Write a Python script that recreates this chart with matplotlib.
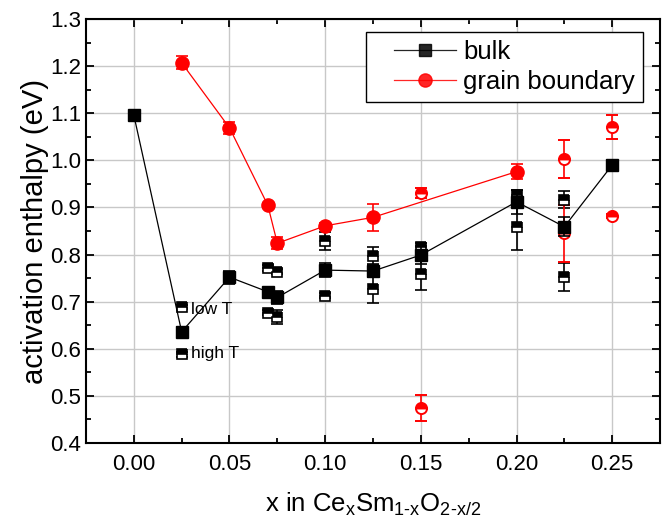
import numpy as np
import matplotlib
matplotlib.use('Agg')
import matplotlib.pyplot as plt
from matplotlib.lines import Line2D
from matplotlib.legend_handler import HandlerLine2D
from matplotlib.ticker import MultipleLocator

plt.rcParams['font.family'] = ['Liberation Sans', 'DejaVu Sans']
plt.rcParams['mathtext.fontset'] = 'custom'
plt.rcParams['mathtext.rm'] = 'Liberation Sans'
plt.rcParams['mathtext.it'] = 'Liberation Sans'

# bulk (filled squares, connected)
bulk_x = [0.0, 0.025, 0.05, 0.07, 0.075, 0.10, 0.125, 0.15, 0.20, 0.225, 0.25]
bulk_y = [1.096, 0.636, 0.752, 0.721, 0.709, 0.767, 0.765, 0.799, 0.912, 0.859, 0.990]
bulk_err = [0.008, 0.010, 0.014, 0.008, 0.014, 0.015, 0.012, 0.020, 0.025, 0.020, 0.010]

# bulk, low T / high T fits (half-filled squares)
lowT_x = [0.025, 0.07, 0.075, 0.10, 0.125, 0.15, 0.20, 0.225]
lowT_y = [0.689, 0.772, 0.764, 0.829, 0.798, 0.815, 0.926, 0.916]
lowT_err = [0.005, 0.006, 0.006, 0.019, 0.019, 0.010, 0.012, 0.018]

highT_x = [0.025, 0.07, 0.075, 0.10, 0.125, 0.15, 0.20, 0.225]
highT_y = [0.588, 0.677, 0.667, 0.713, 0.727, 0.759, 0.859, 0.753]
highT_err = [0.005, 0.006, 0.015, 0.006, 0.030, 0.035, 0.050, 0.030]

# grain boundary (filled circles, connected)
gb_x = [0.025, 0.05, 0.07, 0.075, 0.10, 0.125, 0.20]
gb_y = [1.207, 1.069, 0.905, 0.824, 0.861, 0.879, 0.976]
gb_err = [0.014, 0.013, 0.005, 0.013, 0.006, 0.028, 0.016]

# grain boundary, two-regime values (half-filled circles)
gb2_x = [0.15, 0.15, 0.225, 0.225, 0.25, 0.25]
gb2_y = [0.931, 0.474, 1.003, 0.845, 1.071, 0.882]
gb2_err = [0.010, 0.028, 0.040, 0.060, 0.025, 0.005]

red = '#ff0000'

fig = plt.figure(figsize=(6.64, 5.21), dpi=100)
ax = fig.add_axes([0.1295, 0.1497, 0.8645, 0.8138])

ax.grid(True, color='#c8c8c8', linewidth=1.0, zorder=0)
ax.set_axisbelow(True)

ax.errorbar(highT_x, highT_y, yerr=highT_err, fmt='s', color='black', ms=6.5,
            fillstyle='top', markerfacecoloralt='white', mew=1.2,
            elinewidth=1.2, capsize=4, capthick=1.2, zorder=3)
ax.errorbar(lowT_x, lowT_y, yerr=lowT_err, fmt='s', color='black', ms=6.5,
            fillstyle='top', markerfacecoloralt='white', mew=1.2,
            elinewidth=1.2, capsize=4, capthick=1.2, zorder=3)
ax.errorbar(bulk_x, bulk_y, yerr=bulk_err, fmt='s-', color='black', ms=9,
            lw=0.9, elinewidth=1.2, capsize=4, capthick=1.2, zorder=4)

ax.errorbar(gb2_x, gb2_y, yerr=gb2_err, fmt='o', color=red, ms=8,
            fillstyle='top', markerfacecoloralt='white', mew=1.4,
            elinewidth=1.2, capsize=4.5, capthick=1.2, zorder=3)
ax.errorbar(gb_x, gb_y, yerr=gb_err, fmt='o-', color=red, ms=9.5,
            lw=0.9, elinewidth=1.2, capsize=4.5, capthick=1.2, zorder=4)

ax.text(0.0297, 0.684, 'low T', fontsize=12.5, va='center', ha='left')
ax.text(0.0297, 0.589, 'high T', fontsize=12.5, va='center', ha='left')

ax.set_xlim(-0.025, 0.275)
ax.set_ylim(0.4, 1.3)
ax.xaxis.set_major_locator(MultipleLocator(0.05))
ax.xaxis.set_minor_locator(MultipleLocator(0.025))
ax.yaxis.set_major_locator(MultipleLocator(0.1))
ax.yaxis.set_minor_locator(MultipleLocator(0.05))
ax.xaxis.set_major_formatter(plt.FormatStrFormatter('%.2f'))
ax.yaxis.set_major_formatter(plt.FormatStrFormatter('%.1f'))

ax.tick_params(which='both', direction='in', top=True, right=True, width=1.3)
ax.tick_params(which='major', length=6, labelsize=16)
ax.tick_params(which='minor', length=3.5)
ax.tick_params(axis='x', which='major', pad=8)
ax.tick_params(axis='y', which='major', pad=3.5)
for s in ax.spines.values():
    s.set_linewidth(1.5)

ax.set_xlabel(r'x in Ce$_{\rm x}$Sm$_{\rm 1\text{-}x}$O$_{\rm 2\text{-}x/2}$', fontsize=18.5, labelpad=11)
ax.set_ylabel('activation enthalpy (eV)', fontsize=21, labelpad=1)

handles = [
    Line2D([], [], color='black', lw=0.9, marker='s', ms=9, alpha=0.85),
    Line2D([], [], color=red, lw=0.9, marker='o', ms=9.5, alpha=0.85),
]
hmap = {h: HandlerLine2D(xpad=0.8) for h in handles}
leg = ax.legend(handles, ['bulk', 'grain boundary'], loc='upper right',
                bbox_to_anchor=(0.970, 0.969), borderaxespad=0, fontsize=18.5,
                fancybox=False, edgecolor='black', framealpha=1,
                handlelength=3.2, handletextpad=0.3, labelspacing=0.24,
                borderpad=0.3, handler_map=hmap)
leg.get_frame().set_linewidth(1.0)

fig.savefig('out.png', dpi=100)
